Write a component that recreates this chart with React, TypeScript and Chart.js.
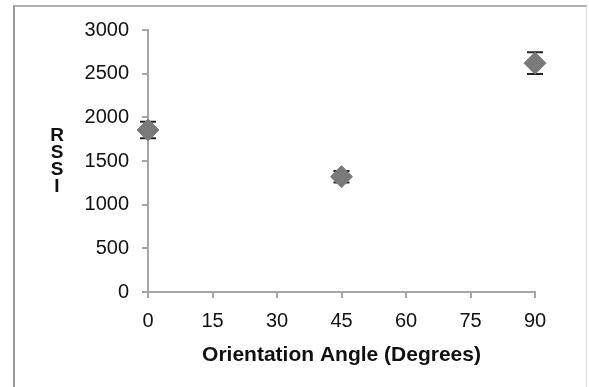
import React, { useEffect, useRef } from "react";
import { Chart, registerables } from "chart.js";

Chart.register(...registerables);

const angles = [0, 45, 90];
const rssiMean = [1855, 1320, 2620];
const rssiErr = [95, 65, 124];
const xTicks = [0, 15, 30, 45, 60, 75, 90];
const yTicks = [0, 500, 1000, 1500, 2000, 2500, 3000];
const xTitle = "Orientation Angle (Degrees)";
const yTitleLetters = ["R", "S", "S", "I"];

const FONT = "'Liberation Sans', Arial, sans-serif";

const errorBarPlugin = {
  id: "errorBars",
  beforeDatasetsDraw(chart: any) {
    const ctx = chart.ctx;
    const xs = chart.scales.x;
    const ys = chart.scales.y;
    ctx.save();
    ctx.strokeStyle = "#262626";
    ctx.lineWidth = 2;
    angles.forEach((a, i) => {
      const px = xs.getPixelForValue(a);
      const top = ys.getPixelForValue(rssiMean[i] + rssiErr[i]);
      const bot = ys.getPixelForValue(rssiMean[i] - rssiErr[i]);
      ctx.beginPath();
      ctx.moveTo(px, top);
      ctx.lineTo(px, bot);
      ctx.moveTo(px - 8, top);
      ctx.lineTo(px + 8, top);
      ctx.moveTo(px - 8, bot);
      ctx.lineTo(px + 8, bot);
      ctx.stroke();
    });
    ctx.restore();
  },
  afterDraw(chart: any) {
    const ctx = chart.ctx;
    ctx.save();
    ctx.fillStyle = "#111";
    ctx.font = `bold 19px ${FONT}`;
    ctx.textAlign = "center";
    ctx.textBaseline = "middle";
    yTitleLetters.forEach((ch, i) => {
      ctx.fillText(ch, 57, 136 + i * 17);
    });
    ctx.restore();
  },
};

export default function App() {
  const ref = useRef<HTMLCanvasElement>(null);
  useEffect(() => {
    if (!ref.current) return;
    const chart = new Chart(ref.current, {
      type: "scatter",
      data: {
        datasets: [
          {
            data: angles.map((a, i) => ({ x: a, y: rssiMean[i] })),
            pointStyle: "rectRot",
            pointRadius: 11,
            pointBackgroundColor: "#7a7a7a",
            pointBorderColor: "#7a7a7a",
            pointBorderWidth: 1,
            clip: false,
          } as any,
        ],
      },
      plugins: [errorBarPlugin],
      options: {
        responsive: false,
        animation: false,
        layout: { padding: { left: 0, right: 54, top: 30, bottom: 15 } },
        plugins: { legend: { display: false }, tooltip: { enabled: false } },
        scales: {
          x: {
            type: "linear",
            min: 0,
            max: 90,
            afterBuildTicks: (s: any) => {
              s.ticks = xTicks.map((v) => ({ value: v }));
            },
            afterFit: (s: any) => {
              s.height = 80;
            },
            grid: {
              display: true,
              drawOnChartArea: false,
              drawTicks: true,
              tickLength: 6,
              color: "#a6a6a6",
              lineWidth: 2,
            },
            border: { display: true, color: "#a6a6a6", width: 2 },
            ticks: {
              color: "#111",
              font: { family: FONT, size: 20 },
              padding: 11,
              maxRotation: 0,
              callback: (v: any) => String(v),
            },
            title: {
              display: true,
              text: xTitle,
              color: "#111",
              font: { family: FONT, size: 21, weight: "bold" },
              padding: { top: 10 },
            },
          },
          y: {
            type: "linear",
            min: 0,
            max: 3000,
            afterBuildTicks: (s: any) => {
              s.ticks = yTicks.map((v) => ({ value: v }));
            },
            afterFit: (s: any) => {
              s.width = 148;
            },
            grid: {
              display: true,
              drawOnChartArea: false,
              drawTicks: true,
              tickLength: 6,
              color: "#a6a6a6",
              lineWidth: 2,
            },
            border: { display: true, color: "#a6a6a6", width: 2 },
            ticks: {
              color: "#111",
              font: { family: FONT, size: 20 },
              padding: 13,
              callback: (v: any) => String(v),
            },
          },
        },
      },
    });
    return () => chart.destroy();
  }, []);

  return (
    <div style={{ position: "fixed", left: 0, top: 0, width: 589, height: 387, background: "#fff", overflow: "hidden" }}>
      <div
        style={{
          position: "absolute",
          left: 13,
          top: 5,
          width: 574,
          height: 420,
          borderLeft: "2px solid #9a9a9a",
          borderTop: "2px solid #b0b0b0",
          borderRight: "1px solid #e0e0e0",
          boxSizing: "border-box",
        }}
      />
      <canvas ref={ref} width={589} height={387} style={{ position: "absolute", left: 0, top: 0 }} />
    </div>
  );
}
